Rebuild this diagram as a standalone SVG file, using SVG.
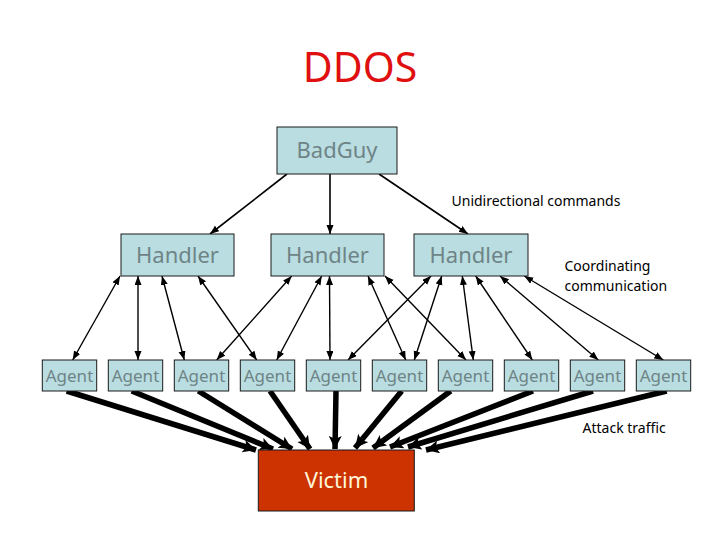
<svg xmlns="http://www.w3.org/2000/svg" width="720" height="540" viewBox="0 0 720 540">
<style>
.box{fill:#b9dde1;stroke:#1a1a1a;stroke-width:1}
.t{font-family:"Noto Sans","DejaVu Sans",sans-serif;fill:#6f8486;text-anchor:middle}
.lbl{font-family:"Noto Sans","DejaVu Sans",sans-serif;font-size:14px;fill:#000}
.cmd{stroke:#000;stroke-width:1.6;fill:none;marker-end:url(#ah)}
.co{stroke:#000;stroke-width:1.4;fill:none;marker-start:url(#ah);marker-end:url(#ah)}
.atk{stroke:#000;stroke-width:5.5;fill:none;marker-end:url(#big)}
</style>
<defs>
<marker id="ah" markerUnits="userSpaceOnUse" markerWidth="10" markerHeight="8" refX="9" refY="3.5" orient="auto-start-reverse"><path d="M0,0 L9,3.5 L0,7 z" fill="#000"/></marker>
<marker id="big" markerUnits="userSpaceOnUse" markerWidth="15" markerHeight="15" refX="13" refY="6.5" orient="auto"><path d="M0,0 L13,6.5 L0,13 L3,6.5 z" fill="#000"/></marker>
</defs>
<rect width="720" height="540" fill="#fff"/>
<text x="360" y="82" font-family="Noto Sans, DejaVu Sans, sans-serif" font-size="41" fill="#e01010" text-anchor="middle">DDOS</text>

<g id="connectors">
<line class="cmd" x1="287" y1="174" x2="210" y2="234"/>
<line class="cmd" x1="330" y1="174" x2="330" y2="234"/>
<line class="cmd" x1="379" y1="174" x2="468" y2="234"/>

<line class="co" x1="120" y1="276" x2="72.7" y2="360"/>
<line class="co" x1="138" y1="276" x2="138" y2="360"/>
<line class="co" x1="162" y1="276" x2="184.3" y2="360"/>
<line class="co" x1="198" y1="276" x2="256.7" y2="360"/>
<line class="co" x1="291.7" y1="276" x2="216.7" y2="360"/>
<line class="co" x1="321.7" y1="276" x2="276.7" y2="360"/>
<line class="co" x1="329.5" y1="276" x2="330" y2="360"/>
<line class="co" x1="368" y1="276" x2="405.7" y2="360"/>
<line class="co" x1="385" y1="276" x2="466" y2="360"/>
<line class="co" x1="431" y1="276" x2="348" y2="360"/>
<line class="co" x1="441.7" y1="276" x2="414.3" y2="360"/>
<line class="co" x1="462.3" y1="276" x2="473.3" y2="360"/>
<line class="co" x1="475.7" y1="276" x2="532.3" y2="360"/>
<line class="co" x1="500" y1="276" x2="598.3" y2="360"/>
<line class="co" x1="524.3" y1="276" x2="663.3" y2="360"/>

<line class="atk" x1="66.7" y1="391" x2="256" y2="450"/>
<line class="atk" x1="131.7" y1="391" x2="273" y2="449"/>
<line class="atk" x1="198.3" y1="391" x2="292" y2="449"/>
<line class="atk" x1="270" y1="391" x2="310" y2="449"/>
<line class="atk" x1="336" y1="391" x2="335" y2="449"/>
<line class="atk" x1="401.7" y1="391" x2="355" y2="448"/>
<line class="atk" x1="450.7" y1="391" x2="373" y2="448"/>
<line class="atk" x1="533" y1="391" x2="390" y2="447"/>
<line class="atk" x1="593" y1="391" x2="408" y2="447"/>
<line class="atk" x1="666.7" y1="391" x2="426" y2="450"/>
</g>

<g id="badguy"><rect class="box" x="277" y="127" width="120" height="47"/><text class="t" x="337" y="158" font-size="22">BadGuy</text></g>

<g id="handler1"><rect class="box" x="121" y="234" width="113" height="42"/><text class="t" x="177.5" y="263" font-size="22">Handler</text></g>
<g id="handler2"><rect class="box" x="271" y="234" width="113" height="42"/><text class="t" x="327.5" y="263" font-size="22">Handler</text></g>
<g id="handler3"><rect class="box" x="414" y="234" width="114" height="42"/><text class="t" x="471" y="263" font-size="22">Handler</text></g>

<g id="agent1"><rect class="box" x="42.3" y="360" width="54.4" height="31"/><text class="t" x="69.5" y="382" font-size="17">Agent</text></g>
<g id="agent2"><rect class="box" x="108.3" y="360" width="54.4" height="31"/><text class="t" x="135.5" y="382" font-size="17">Agent</text></g>
<g id="agent3"><rect class="box" x="174.3" y="360" width="54.4" height="31"/><text class="t" x="201.5" y="382" font-size="17">Agent</text></g>
<g id="agent4"><rect class="box" x="240.3" y="360" width="54.4" height="31"/><text class="t" x="267.5" y="382" font-size="17">Agent</text></g>
<g id="agent5"><rect class="box" x="306.3" y="360" width="54.4" height="31"/><text class="t" x="333.5" y="382" font-size="17">Agent</text></g>
<g id="agent6"><rect class="box" x="372.3" y="360" width="54.4" height="31"/><text class="t" x="399.5" y="382" font-size="17">Agent</text></g>
<g id="agent7"><rect class="box" x="438.3" y="360" width="54.4" height="31"/><text class="t" x="465.5" y="382" font-size="17">Agent</text></g>
<g id="agent8"><rect class="box" x="504.3" y="360" width="54.4" height="31"/><text class="t" x="531.5" y="382" font-size="17">Agent</text></g>
<g id="agent9"><rect class="box" x="570.3" y="360" width="54.4" height="31"/><text class="t" x="597.5" y="382" font-size="17">Agent</text></g>
<g id="agent10"><rect class="box" x="636.3" y="360" width="54.4" height="31"/><text class="t" x="663.5" y="382" font-size="17">Agent</text></g>

<g id="victim"><rect x="258.3" y="450" width="156" height="61" fill="#cc3300" stroke="#1a1a1a" stroke-width="1"/><text x="336.5" y="488" font-family="Noto Sans, DejaVu Sans, sans-serif" font-size="22" fill="#fff6d8" text-anchor="middle">Victim</text></g>

<text class="lbl" x="451.5" y="206">Unidirectional commands</text>
<text class="lbl" x="564.5" y="271">Coordinating</text>
<text class="lbl" x="564.5" y="291">communication</text>
<text class="lbl" x="582.5" y="433">Attack traffic</text>
</svg>
